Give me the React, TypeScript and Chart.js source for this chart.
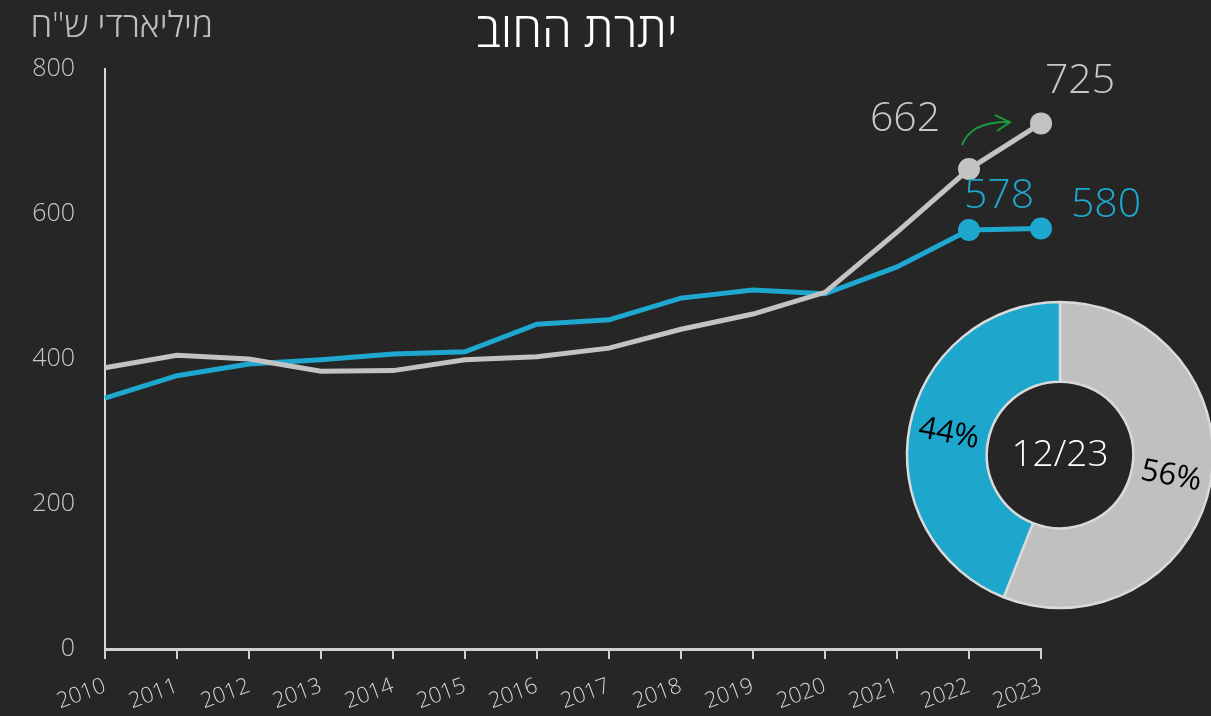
import React, { useEffect, useRef } from "react";
import { Chart, registerables } from "chart.js";

Chart.register(...registerables);

const years = ["2010","2011","2012","2013","2014","2015","2016","2017","2018","2019","2020","2021","2022","2023"];
const totalDebt = [388, 405, 400, 383, 384, 399, 403, 415, 441, 462, 492, 575, 662, 725];
const localDebt = [346, 377, 393, 399, 407, 410, 448, 454, 484, 495, 490, 527, 578, 580];
const yTicks = [0, 200, 400, 600, 800];
const shareLabels = ["56%", "44%"];
const shareValues = [56, 44];
const centerLabel = "12/23";
const titleText = "יתרת החוב";
const yTitleText = "מיליארדי ש\"ח";

const GRAY = "#c3c3c3";
const BLUE = "#1ea8cf";
const FONT = "'Open Sans', 'DejaVu Sans', sans-serif";

export default function App() {
  const lineRef = useRef<HTMLCanvasElement>(null);
  const donutRef = useRef<HTMLCanvasElement>(null);

  useEffect(() => {
    const endLabels = {
      id: "endLabels",
      afterDatasetsDraw(chart: any) {
        const ctx = chart.ctx;
        const g = chart.getDatasetMeta(0).data;
        const b = chart.getDatasetMeta(1).data;
        ctx.save();
        ctx.font = `300 41px ${FONT}`;
        ctx.textAlign = "center";
        ctx.textBaseline = "middle";
        const n = g.length;
        ctx.fillStyle = "#c8c8c8";
        ctx.fillText(String(totalDebt[n - 1]), g[n - 1].x + 39, g[n - 1].y - 42);
        ctx.fillText(String(totalDebt[n - 2]), g[n - 2].x - 64, g[n - 2].y - 50);
        ctx.fillStyle = BLUE;
        ctx.fillText(String(localDebt[n - 2]), b[n - 2].x + 30, b[n - 2].y - 34);
        ctx.fillText(String(localDebt[n - 1]), b[n - 1].x + 65, b[n - 1].y - 23);
        // green arrow
        const p = g[n - 2];
        const sx = p.x - 7, sy = p.y - 24;
        const ex = p.x + 41, ey = p.y - 47;
        ctx.strokeStyle = "#1a9a3c";
        ctx.lineWidth = 2;
        ctx.beginPath();
        ctx.moveTo(sx, sy);
        ctx.quadraticCurveTo(p.x + 2, p.y - 48, ex, ey);
        ctx.stroke();
        ctx.beginPath();
        ctx.moveTo(ex - 15, ey - 7);
        ctx.lineTo(ex, ey);
        ctx.lineTo(ex - 13, ey + 9);
        ctx.stroke();
        ctx.restore();
      },
    };

    const line = new Chart(lineRef.current!, {
      type: "line",
      data: {
        labels: years,
        datasets: [
          {
            data: totalDebt,
            borderColor: GRAY,
            backgroundColor: GRAY,
            borderWidth: 5,
            pointRadius: (c: any) => (c.dataIndex >= years.length - 2 ? 11 : 0),
            pointHoverRadius: 0,
            pointBorderWidth: 0,
          },
          {
            data: localDebt,
            borderColor: BLUE,
            backgroundColor: BLUE,
            borderWidth: 5,
            pointRadius: (c: any) => (c.dataIndex >= years.length - 2 ? 11 : 0),
            pointHoverRadius: 0,
            pointBorderWidth: 0,
          },
        ],
      },
      options: {
        responsive: false,
        animation: false,
        events: [],
        layout: { padding: { left: 0, right: 170, top: 69, bottom: 0 } },
        plugins: { legend: { display: false }, tooltip: { enabled: false } },
        scales: {
          x: {
            offset: false,
            grid: { display: true, drawOnChartArea: false, drawTicks: true, tickLength: 10, color: "#cfcfcf", lineWidth: 2 },
            border: { display: true, color: "#cfcfcf", width: 3 },
            ticks: {
              color: "#d4d4d4",
              font: { family: FONT, size: 22, weight: "300" as any },
              minRotation: 20,
              maxRotation: 20,
              padding: 14,
              autoSkip: false,
            },
            afterFit: (s: any) => { s.height = 67; },
          },
          y: {
            min: 0,
            max: 800,
            afterBuildTicks: (s: any) => { s.ticks = yTicks.map((v) => ({ value: v })); },
            grid: { display: false },
            border: { display: true, color: "#d8d8d8", width: 2 },
            ticks: {
              color: "#c8c8c8",
              font: { family: FONT, size: 25, weight: "300" as any },
              padding: 22,
            },
            afterFit: (s: any) => { s.width = 105; },
          },
        },
      },
      plugins: [endLabels],
    });

    const donutLabels = {
      id: "donutLabels",
      afterDatasetsDraw(chart: any) {
        const ctx = chart.ctx;
        const arcs = chart.getDatasetMeta(0).data;
        ctx.save();
        ctx.font = `400 31px ${FONT}`;
        ctx.fillStyle = "#000";
        ctx.textAlign = "center";
        ctx.textBaseline = "middle";
        arcs.forEach((a: any, i: number) => {
          const mid = (a.startAngle + a.endAngle) / 2;
          const r = (a.innerRadius + a.outerRadius) / 2;
          const x = a.x + Math.cos(mid) * r;
          const y = a.y + Math.sin(mid) * r;
          let rot = mid;
          while (rot > Math.PI / 2) rot -= Math.PI;
          while (rot < -Math.PI / 2) rot += Math.PI;
          ctx.save();
          ctx.translate(x, y);
          ctx.rotate(rot);
          ctx.fillText(shareLabels[i], 0, 0);
          ctx.restore();
        });
        const a0 = arcs[0];
        ctx.font = `300 37px ${FONT}`;
        ctx.fillStyle = "#ffffff";
        ctx.fillText(centerLabel, a0.x, a0.y);
        ctx.restore();
      },
    };

    const donut = new Chart(donutRef.current!, {
      type: "doughnut",
      data: {
        labels: shareLabels,
        datasets: [
          {
            data: shareValues,
            backgroundColor: ["#c0c0c0", "#1da7cc"],
            borderColor: "#dadada",
            borderWidth: 2.5,
          },
        ],
      },
      options: {
        responsive: false,
        animation: false,
        events: [],
        radius: 153,
        cutout: 76,
        plugins: { legend: { display: false }, tooltip: { enabled: false } },
      },
      plugins: [donutLabels],
    });

    return () => {
      line.destroy();
      donut.destroy();
    };
  }, []);

  return (
    <div
      style={{
        position: "fixed",
        left: 0,
        top: 0,
        width: 1211,
        height: 716,
        background: "#262626",
        overflow: "hidden",
        fontFamily: FONT,
      }}
    >
      <canvas ref={lineRef} width={1211} height={716} style={{ position: "absolute", left: 0, top: 0 }} />
      <canvas ref={donutRef} width={320} height={320} style={{ position: "absolute", left: 900, top: 295 }} />
      <div
        dir="rtl"
        style={{
          position: "absolute",
          left: 377,
          width: 400,
          top: -2,
          textAlign: "center",
          color: "#ffffff",
          fontSize: 48,
          fontWeight: 300,
          lineHeight: "62px",
        }}
      >
        {titleText}
      </div>
      <div
        dir="rtl"
        style={{
          position: "absolute",
          left: 0,
          width: 213,
          top: 0,
          textAlign: "right",
          color: "#bdbdbd",
          fontSize: 35,
          fontWeight: 300,
          lineHeight: "48px",
        }}
      >
        {yTitleText}
      </div>
    </div>
  );
}
